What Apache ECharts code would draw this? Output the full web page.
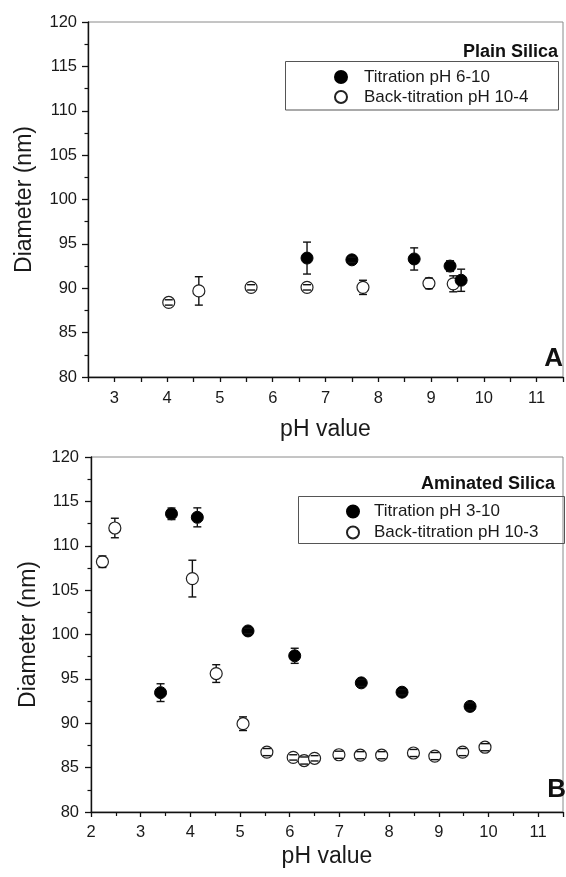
<!DOCTYPE html>
<html>
<head>
<meta charset="utf-8">
<script src="https://cdn.jsdelivr.net/npm/echarts@6/dist/echarts.min.js"></script>
<style>
html,body{margin:0;padding:0;background:#fff;}
#chart{width:566px;height:877px;}
</style>
</head>
<body>
<div id="chart"></div>
<script>
// ---- Panel A: Plain Silica ----
var topTitName = 'Titration pH 6-10';
var topTitX = [6.65, 7.50, 8.68, 9.36, 9.57];
var topTitY = [93.4, 93.2, 93.3, 92.5, 90.9];
var topTitErr = [1.8, 0.3, 1.25, 0.6, 1.25];

var topBackName = 'Back-titration pH 10-4';
var topBackX = [4.03, 4.60, 5.59, 6.65, 7.71, 8.96, 9.42];
var topBackY = [88.4, 89.7, 90.1, 90.1, 90.1, 90.55, 90.5];
var topBackErr = [0.3, 1.6, 0.3, 0.3, 0.8, 0.6, 0.9];

// ---- Panel B: Aminated Silica ----
var botTitName = 'Titration pH 3-10';
var botTitX = [3.40, 3.62, 4.14, 5.16, 6.10, 7.44, 8.26, 9.63];
var botTitY = [93.45, 113.6, 113.2, 100.4, 97.6, 94.55, 93.5, 91.9];
var botTitErr = [1.0, 0.65, 1.07, 0.3, 0.85, 0.4, 0.3, 0.4];

var botBackName = 'Back-titration pH 10-3';
var botBackX = [2.23, 2.48, 4.04, 4.52, 5.06, 5.54, 6.07, 6.29, 6.50, 6.99, 7.42, 7.85, 8.49, 8.92, 9.48, 9.93];
var botBackY = [108.2, 112.0, 106.3, 95.6, 89.95, 86.75, 86.15, 85.8, 86.05, 86.45, 86.4, 86.4, 86.65, 86.3, 86.75, 87.3];
var botBackErr = [0.65, 1.1, 2.07, 1.0, 0.77, 0.4, 0.3, 0.4, 0.3, 0.4, 0.4, 0.4, 0.4, 0.4, 0.4, 0.4];

var panelTitles = ['Plain Silica', 'Aminated Silica'];
var panelLetters = ['A', 'B'];
var xName = 'pH value';
var yName = 'Diameter (nm)';

var FONT = 'Liberation Sans, Arial, sans-serif';
var SYM = 12;

function pts(xs, ys) { return xs.map(function (x, i) { return [x, ys[i]]; }); }
function errPts(xs, ys, es) { return xs.map(function (x, i) { return [x, ys[i], es[i]]; }); }

function errRender(params, api) {
  var x = api.value(0), y = api.value(1), e = api.value(2);
  var p = api.coord([x, y]);
  var t = api.coord([x, y + e]);
  var b = api.coord([x, y - e]);
  var r = SYM / 2;
  var cw = 4;
  var st = { stroke: '#111', lineWidth: 1.4 };
  var ch = [
    { type: 'line', shape: { x1: p[0] - cw, y1: t[1], x2: p[0] + cw, y2: t[1] }, style: st },
    { type: 'line', shape: { x1: p[0] - cw, y1: b[1], x2: p[0] + cw, y2: b[1] }, style: st }
  ];
  if (t[1] < p[1] - r) ch.push({ type: 'line', shape: { x1: p[0], y1: t[1], x2: p[0], y2: p[1] - r }, style: st });
  if (b[1] > p[1] + r) ch.push({ type: 'line', shape: { x1: p[0], y1: p[1] + r, x2: p[0], y2: b[1] }, style: st });
  return { type: 'group', children: ch };
}

function yAxisCfg(gi, margin, gap) {
  return {
    type: 'value', gridIndex: gi, min: 80, max: 120, interval: 5,
    name: yName, nameLocation: 'middle', nameGap: gap,
    nameTextStyle: { fontFamily: FONT, fontSize: 23, color: '#1a1a1a' },
    axisLine: { show: true, lineStyle: { color: '#111', width: 1.4 } },
    axisTick: { show: true, length: 6, lineStyle: { color: '#111', width: 1.3 } },
    minorTick: { show: true, splitNumber: 2, length: 3.5, lineStyle: { color: '#111', width: 1.2 } },
    splitLine: { show: false },
    axisLabel: { margin: margin, fontFamily: FONT, fontSize: 16.5, color: '#1a1a1a' }
  };
}

var chart = echarts.init(document.getElementById('chart'), null, { renderer: 'canvas' });

var option = {
  backgroundColor: '#fff',
  animation: false,
  grid: [
    { left: 88, right: 0, top: 22, bottom: 500, show: true, borderColor: '#8a8a8a', borderWidth: 1 },
    { left: 91, right: -5, top: 457, bottom: 65, show: true, borderColor: '#8a8a8a', borderWidth: 1 }
  ],
  title: [
    { text: panelTitles[0], right: 8, top: 43, padding: 0, textStyle: { fontFamily: FONT, fontSize: 18, fontWeight: 'bold', color: '#111' } },
    { text: panelTitles[1], right: 11, top: 475, padding: 0, textStyle: { fontFamily: FONT, fontSize: 18, fontWeight: 'bold', color: '#111' } },
    { text: panelLetters[0], right: 3, top: 346, padding: 0, textStyle: { fontFamily: FONT, fontSize: 26, fontWeight: 'bold', color: '#111' } },
    { text: panelLetters[1], right: 0, top: 777, padding: 0, textStyle: { fontFamily: FONT, fontSize: 26, fontWeight: 'bold', color: '#111' } }
  ],
  legend: [
    {
      data: [topTitName, topBackName], orient: 'vertical', left: 334, top: 67,
      itemWidth: 12, itemHeight: 12, itemGap: 0, padding: 0,
      formatter: function (n) { return '{pad|}' + n; },
      textStyle: { fontFamily: FONT, fontSize: 17, color: '#1a1a1a', lineHeight: 20, rich: { pad: { width: 12 } } }
    },
    {
      data: [botTitName, botBackName], orient: 'vertical', left: 346, top: 501,
      itemWidth: 12, itemHeight: 12, itemGap: 0, padding: 0,
      formatter: function (n) { return '{pad|}' + n; },
      textStyle: { fontFamily: FONT, fontSize: 17, color: '#1a1a1a', lineHeight: 21, rich: { pad: { width: 10 } } }
    }
  ],
  graphic: [
    { type: 'rect', shape: { x: 285.5, y: 61.5, width: 273, height: 48.5 }, style: { fill: 'none', stroke: '#555', lineWidth: 1 }, z: 5 },
    { type: 'rect', shape: { x: 298.5, y: 496.5, width: 266, height: 47 }, style: { fill: 'none', stroke: '#555', lineWidth: 1 }, z: 5 }
  ],
  xAxis: [
    {
      type: 'value', gridIndex: 0, min: 2.5, max: 11.5, interval: 0.5,
      name: xName, nameLocation: 'middle', nameGap: 41,
      nameTextStyle: { fontFamily: FONT, fontSize: 23, color: '#1a1a1a' },
      axisLine: { show: true, onZero: false, lineStyle: { color: '#111', width: 1.4 } },
      axisTick: { show: true, length: 5, lineStyle: { color: '#111', width: 1.3 } },
      splitLine: { show: false },
      axisLabel: {
        margin: 13, fontFamily: FONT, fontSize: 16.5, color: '#1a1a1a',
        formatter: function (v) { return Math.abs(v - Math.round(v)) < 1e-6 ? String(Math.round(v)) : ''; }
      }
    },
    {
      type: 'value', gridIndex: 1, min: 2, max: 11.5, interval: 1,
      name: xName, nameLocation: 'middle', nameGap: 33,
      nameTextStyle: { fontFamily: FONT, fontSize: 23, color: '#1a1a1a' },
      axisLine: { show: true, onZero: false, lineStyle: { color: '#111', width: 1.4 } },
      axisTick: { show: true, length: 5, lineStyle: { color: '#111', width: 1.3 } },
      minorTick: { show: true, splitNumber: 2, length: 4, lineStyle: { color: '#111', width: 1.2 } },
      splitLine: { show: false },
      axisLabel: {
        margin: 12, fontFamily: FONT, fontSize: 16.5, color: '#1a1a1a',
        formatter: function (v) { return Math.abs(v - Math.round(v)) < 1e-6 ? String(Math.round(v)) : ''; }
      }
    }
  ],
  yAxis: [yAxisCfg(0, 11, 52), yAxisCfg(1, 12, 39)],
  series: [
    { name: topTitName, type: 'scatter', xAxisIndex: 0, yAxisIndex: 0, symbol: 'circle', symbolSize: SYM,
      itemStyle: { color: '#000', borderColor: '#000', borderWidth: 1, opacity: 1 }, data: pts(topTitX, topTitY), z: 3 },
    { name: topBackName, type: 'scatter', xAxisIndex: 0, yAxisIndex: 0, symbol: 'circle', symbolSize: SYM,
      itemStyle: { color: '#fff', borderColor: '#222', borderWidth: 1.2, opacity: 1 }, data: pts(topBackX, topBackY), z: 2 },
    { name: 'errA1', type: 'custom', xAxisIndex: 0, yAxisIndex: 0, renderItem: errRender, data: errPts(topTitX, topTitY, topTitErr), z: 4, encode: { x: 0, y: 1 } },
    { name: 'errA2', type: 'custom', xAxisIndex: 0, yAxisIndex: 0, renderItem: errRender, data: errPts(topBackX, topBackY, topBackErr), z: 4, encode: { x: 0, y: 1 } },

    { name: botTitName, type: 'scatter', xAxisIndex: 1, yAxisIndex: 1, symbol: 'circle', symbolSize: SYM,
      itemStyle: { color: '#000', borderColor: '#000', borderWidth: 1, opacity: 1 }, data: pts(botTitX, botTitY), z: 3 },
    { name: botBackName, type: 'scatter', xAxisIndex: 1, yAxisIndex: 1, symbol: 'circle', symbolSize: SYM,
      itemStyle: { color: '#fff', borderColor: '#222', borderWidth: 1.2, opacity: 1 }, data: pts(botBackX, botBackY), z: 2 },
    { name: 'errB1', type: 'custom', xAxisIndex: 1, yAxisIndex: 1, renderItem: errRender, data: errPts(botTitX, botTitY, botTitErr), z: 4, encode: { x: 0, y: 1 } },
    { name: 'errB2', type: 'custom', xAxisIndex: 1, yAxisIndex: 1, renderItem: errRender, data: errPts(botBackX, botBackY, botBackErr), z: 4, encode: { x: 0, y: 1 } }
  ]
};
chart.setOption(option);
</script>
</body>
</html>
